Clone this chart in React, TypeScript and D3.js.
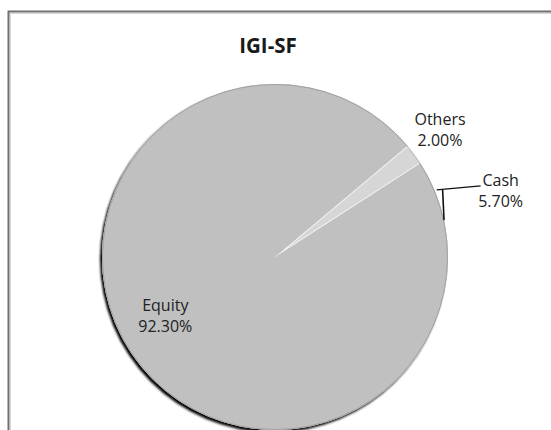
import React, { useRef, useEffect } from "react";
import * as d3 from "d3";

// slice order clockwise from the Others wedge
const categories = ["Others", "Cash", "Equity"];
const shares = [2.0, 5.7, 92.3];
const chartTitle = "IGI-SF";

const W = 551;
const H = 430;

const App = () => {
  const ref = useRef<SVGSVGElement | null>(null);

  useEffect(() => {
    if (!ref.current) return;
    const svg = d3.select(ref.current);
    svg.selectAll("*").remove();

    const cx = 275;
    const cy = 257;
    const r = 173;
    const font = "'Open Sans', 'Noto Sans', sans-serif";

    const defs = svg.append("defs");
    const f = defs
      .append("filter")
      .attr("id", "pieShadow")
      .attr("x", "-10%")
      .attr("y", "-10%")
      .attr("width", "120%")
      .attr("height", "120%");
    f.append("feDropShadow")
      .attr("dx", -2)
      .attr("dy", 2.5)
      .attr("stdDeviation", 1.1)
      .attr("flood-color", "#000")
      .attr("flood-opacity", 1);

    // chart frame (right / bottom edges run off the picture)
    svg
      .append("rect")
      .attr("x", 8.5)
      .attr("y", 11.5)
      .attr("width", 600)
      .attr("height", 500)
      .attr("fill", "#fff")
      .attr("stroke", "#6f6f6f")
      .attr("stroke-width", 2);
    svg
      .append("rect")
      .attr("x", 10.5)
      .attr("y", 13.5)
      .attr("width", 600)
      .attr("height", 500)
      .attr("fill", "none")
      .attr("stroke", "#d6d6d6")
      .attr("stroke-width", 1);

    svg
      .append("text")
      .attr("x", 268)
      .attr("y", 53)
      .attr("text-anchor", "middle")
      .attr("font-family", font)
      .attr("font-weight", "bold")
      .attr("font-size", 20.5)
      .attr("fill", "#1a1a1a")
      .text(chartTitle);

    const data = categories.map((c, i) => ({ name: c, value: shares[i] }));
    const start = (50 * Math.PI) / 180;
    const pie = d3
      .pie<{ name: string; value: number }>()
      .sort(null)
      .value((d) => d.value)
      .startAngle(start)
      .endAngle(start + 2 * Math.PI);
    const arcs = pie(data);
    const arc = d3
      .arc<d3.PieArcDatum<{ name: string; value: number }>>()
      .innerRadius(0)
      .outerRadius(r);

    const g = svg.append("g").attr("transform", `translate(${cx},${cy})`);

    // base disc carrying the shadow
    g.append("circle")
      .attr("r", r)
      .attr("fill", "#c0c0c0")
      .attr("filter", "url(#pieShadow)");

    g.selectAll("path.slice")
      .data(arcs)
      .join("path")
      .attr("class", "slice")
      .attr("d", arc)
      .attr("fill", (d) => (d.data.name === "Others" ? "#d6d6d6" : "#c0c0c0"))
      .attr("stroke", (d) => (d.data.name === "Others" ? "#f6f6f6" : "none"))
      .attr("stroke-width", 1.8);

    g.append("circle")
      .attr("r", r - 0.5)
      .attr("fill", "none")
      .attr("stroke", "#9a9a9a")
      .attr("stroke-width", 0.8);

    const pt = (a: number, rad: number) => [Math.sin(a) * rad, -Math.cos(a) * rad];
    const mid = (d: d3.PieArcDatum<any>) => (d.startAngle + d.endAngle) / 2;
    const fmt = (v: number) => v.toFixed(2) + "%";

    const label = (x: number, y: number, d: d3.PieArcDatum<any>) => {
      const t = g
        .append("text")
        .attr("text-anchor", "middle")
        .attr("font-family", font)
        .attr("font-size", 16)
        .attr("fill", "#222");
      t.append("tspan").attr("x", x).attr("y", y).text(d.data.name);
      t.append("tspan").attr("x", x).attr("y", y + 21).text(fmt(d.data.value));
    };

    arcs.forEach((d) => {
      const m = mid(d);
      if (d.data.name === "Others") {
        const [x, y] = pt(m, r + 32);
        label(x, y - 10, d);
      } else if (d.data.name === "Cash") {
        const p0 = pt(m, r + 2);
        const p1 = pt(d.endAngle, r);
        const lx = p0[0] + 44;
        const ly = p0[1] - 4;
        g.append("path")
          .attr("d", `M${lx},${ly}L${p0[0]},${p0[1]}`)
          .attr("fill", "none")
          .attr("stroke", "#111")
          .attr("stroke-width", 1.2);
        g.append("path")
          .attr("d", `M${p0[0] + 6},${p0[1]}L${p1[0]},${p1[1]}`)
          .attr("fill", "none")
          .attr("stroke", "#111")
          .attr("stroke-width", 1.6);
        label(lx + 20, ly, d);
      } else {
        const [x, y] = pt(m, 130);
        label(x + 7, y - 3, d);
      }
    });
  }, []);

  return (
    <svg
      ref={ref}
      width={W}
      height={H}
      style={{ position: "absolute", left: 0, top: 0, background: "#fff" }}
    />
  );
};

export default App;
